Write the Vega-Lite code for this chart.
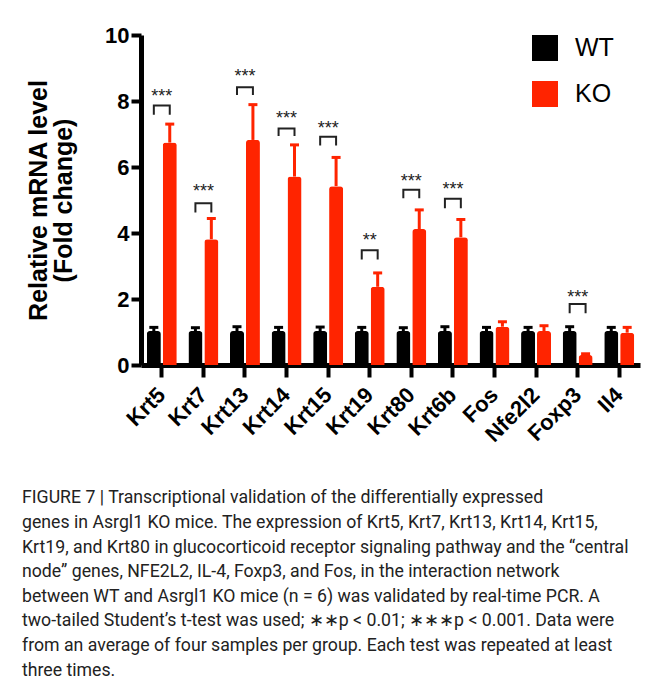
{
  "$schema": "https://vega.github.io/schema/vega-lite/v6.json",
  "width": 499,
  "height": 330,
  "autosize": {"type": "none"},
  "padding": {"left": 141, "top": 35, "right": 11, "bottom": 320},
  "background": "white",
  "config": {
    "view": {"stroke": null},
    "font": "Liberation Sans",
    "legend": {"orient": "none", "legendX": 391, "legendY": 0, "symbolType": "square", "symbolSize": 676, "symbolStrokeWidth": 0, "symbolOpacity": 1, "labelFontSize": 25, "labelFont": "Liberation Sans", "labelColor": "#000", "rowPadding": 20, "labelOffset": 17, "padding": 0, "title": null}
  },
  "title": {
    "text": [
      "FIGURE 7 | Transcriptional validation of the differentially expressed",
      "genes in Asrgl1 KO mice. The expression of Krt5, Krt7, Krt13, Krt14, Krt15,",
      "Krt19, and Krt80 in glucocorticoid receptor signaling pathway and the “central",
      "node” genes, NFE2L2, IL-4, Foxp3, and Fos, in the interaction network",
      "between WT and Asrgl1 KO mice (n = 6) was validated by real-time PCR. A",
      "two-tailed Student’s t-test was used; ∗∗p < 0.01; ∗∗∗p < 0.001. Data were",
      "from an average of four samples per group. Each test was repeated at least",
      "three times."
    ],
    "orient": "bottom",
    "anchor": "start",
    "frame": "bounds",
    "font": "Roboto",
    "fontSize": 17.7,
    "fontWeight": "normal",
    "color": "#222222",
    "lineHeight": 24.6,
    "offset": 44,
    "dx": -4
  },
  "datasets": {
    "bars": [
      {"gene": "Krt5", "group": "WT", "value": 1.03, "upper": 1.14},
      {"gene": "Krt5", "group": "KO", "value": 6.74, "upper": 7.30},
      {"gene": "Krt7", "group": "WT", "value": 1.03, "upper": 1.13},
      {"gene": "Krt7", "group": "KO", "value": 3.81, "upper": 4.44},
      {"gene": "Krt13", "group": "WT", "value": 1.03, "upper": 1.16},
      {"gene": "Krt13", "group": "KO", "value": 6.82, "upper": 7.89},
      {"gene": "Krt14", "group": "WT", "value": 1.03, "upper": 1.14},
      {"gene": "Krt14", "group": "KO", "value": 5.71, "upper": 6.67},
      {"gene": "Krt15", "group": "WT", "value": 1.03, "upper": 1.15},
      {"gene": "Krt15", "group": "KO", "value": 5.42, "upper": 6.29},
      {"gene": "Krt19", "group": "WT", "value": 1.03, "upper": 1.14},
      {"gene": "Krt19", "group": "KO", "value": 2.37, "upper": 2.79},
      {"gene": "Krt80", "group": "WT", "value": 1.03, "upper": 1.13},
      {"gene": "Krt80", "group": "KO", "value": 4.12, "upper": 4.70},
      {"gene": "Krt6b", "group": "WT", "value": 1.03, "upper": 1.16},
      {"gene": "Krt6b", "group": "KO", "value": 3.87, "upper": 4.41},
      {"gene": "Fos", "group": "WT", "value": 1.03, "upper": 1.14},
      {"gene": "Fos", "group": "KO", "value": 1.16, "upper": 1.31},
      {"gene": "Nfe2l2", "group": "WT", "value": 1.03, "upper": 1.14},
      {"gene": "Nfe2l2", "group": "KO", "value": 1.03, "upper": 1.19},
      {"gene": "Foxp3", "group": "WT", "value": 1.03, "upper": 1.16},
      {"gene": "Foxp3", "group": "KO", "value": 0.30, "upper": 0.34},
      {"gene": "Il4", "group": "WT", "value": 1.03, "upper": 1.14},
      {"gene": "Il4", "group": "KO", "value": 0.98, "upper": 1.14}
    ],
    "brackets": [
      {"gene": "Krt5", "group": "WT", "y": 7.58, "ord": 1},
      {"gene": "Krt5", "group": "WT", "y": 7.86, "ord": 2},
      {"gene": "Krt5", "group": "KO", "y": 7.86, "ord": 3},
      {"gene": "Krt5", "group": "KO", "y": 7.58, "ord": 4},
      {"gene": "Krt7", "group": "WT", "y": 4.62, "ord": 1},
      {"gene": "Krt7", "group": "WT", "y": 4.90, "ord": 2},
      {"gene": "Krt7", "group": "KO", "y": 4.90, "ord": 3},
      {"gene": "Krt7", "group": "KO", "y": 4.62, "ord": 4},
      {"gene": "Krt13", "group": "WT", "y": 8.18, "ord": 1},
      {"gene": "Krt13", "group": "WT", "y": 8.42, "ord": 2},
      {"gene": "Krt13", "group": "KO", "y": 8.42, "ord": 3},
      {"gene": "Krt13", "group": "KO", "y": 8.18, "ord": 4},
      {"gene": "Krt14", "group": "WT", "y": 6.94, "ord": 1},
      {"gene": "Krt14", "group": "WT", "y": 7.17, "ord": 2},
      {"gene": "Krt14", "group": "KO", "y": 7.17, "ord": 3},
      {"gene": "Krt14", "group": "KO", "y": 6.94, "ord": 4},
      {"gene": "Krt15", "group": "WT", "y": 6.65, "ord": 1},
      {"gene": "Krt15", "group": "WT", "y": 6.92, "ord": 2},
      {"gene": "Krt15", "group": "KO", "y": 6.92, "ord": 3},
      {"gene": "Krt15", "group": "KO", "y": 6.65, "ord": 4},
      {"gene": "Krt19", "group": "WT", "y": 3.20, "ord": 1},
      {"gene": "Krt19", "group": "WT", "y": 3.48, "ord": 2},
      {"gene": "Krt19", "group": "KO", "y": 3.48, "ord": 3},
      {"gene": "Krt19", "group": "KO", "y": 3.20, "ord": 4},
      {"gene": "Krt80", "group": "WT", "y": 5.05, "ord": 1},
      {"gene": "Krt80", "group": "WT", "y": 5.31, "ord": 2},
      {"gene": "Krt80", "group": "KO", "y": 5.31, "ord": 3},
      {"gene": "Krt80", "group": "KO", "y": 5.05, "ord": 4},
      {"gene": "Krt6b", "group": "WT", "y": 4.75, "ord": 1},
      {"gene": "Krt6b", "group": "WT", "y": 5.04, "ord": 2},
      {"gene": "Krt6b", "group": "KO", "y": 5.04, "ord": 3},
      {"gene": "Krt6b", "group": "KO", "y": 4.75, "ord": 4},
      {"gene": "Foxp3", "group": "WT", "y": 1.57, "ord": 1},
      {"gene": "Foxp3", "group": "WT", "y": 1.85, "ord": 2},
      {"gene": "Foxp3", "group": "KO", "y": 1.85, "ord": 3},
      {"gene": "Foxp3", "group": "KO", "y": 1.57, "ord": 4}
    ],
    "stars": [
      {"gene": "Krt5", "label": "***", "y": 8.24},
      {"gene": "Krt7", "label": "***", "y": 5.35},
      {"gene": "Krt13", "label": "***", "y": 8.85},
      {"gene": "Krt14", "label": "***", "y": 7.58},
      {"gene": "Krt15", "label": "***", "y": 7.27},
      {"gene": "Krt19", "label": "**", "y": 3.89},
      {"gene": "Krt80", "label": "***", "y": 5.66},
      {"gene": "Krt6b", "label": "***", "y": 5.42},
      {"gene": "Foxp3", "label": "***", "y": 2.15}
    ]
  },
  "layer": [
    {
      "data": {"name": "bars"},
      "mark": {"type": "bar", "cornerRadiusTopLeft": 3, "cornerRadiusTopRight": 3},
      "encoding": {
        "x": {
          "field": "gene", "type": "nominal",
          "sort": ["Krt5", "Krt7", "Krt13", "Krt14", "Krt15", "Krt19", "Krt80", "Krt6b", "Fos", "Nfe2l2", "Foxp3", "Il4"],
          "scale": {"paddingInner": 0.28, "paddingOuter": 0.14},
          "title": null,
          "axis": {"domainColor": "#000", "domainWidth": 5, "tickColor": "#000", "tickWidth": 4, "tickSize": 12, "labelAngle": -45, "labelAlign": "right", "labelBaseline": "middle", "labelPadding": 14, "labelFontSize": 22, "labelFontWeight": "bold", "labelColor": "#000", "labelFont": "Liberation Sans"}
        },
        "xOffset": {"field": "group", "type": "nominal", "sort": ["WT", "KO"], "scale": {"paddingInner": 0.12, "paddingOuter": 0}},
        "y": {
          "field": "value", "type": "quantitative",
          "scale": {"domain": [0, 10], "nice": false},
          "title": ["Relative mRNA level", "(Fold change)"],
          "axis": {"values": [0, 2, 4, 6, 8, 10], "grid": false, "domainColor": "#000", "domainWidth": 5, "tickColor": "#000", "tickWidth": 4, "tickSize": 10, "labelPadding": 2, "labelFontSize": 22, "labelFontWeight": "bold", "labelColor": "#000", "labelFont": "Liberation Sans", "titleFontSize": 25, "titleFontWeight": "bold", "titleColor": "#000", "titleFont": "Liberation Sans", "titleLineHeight": 25, "titleX": -103, "titleBaseline": "middle"}
        },
        "color": {
          "field": "group", "type": "nominal",
          "scale": {"domain": ["WT", "KO"], "range": ["#000000", "#ff2400"]},
          "legend": {"orient": "none", "legendX": 391, "legendY": 0, "symbolOpacity": 1}
        }
      }
    },
    {
      "data": {"name": "bars"},
      "mark": {"type": "rule", "strokeWidth": 3},
      "encoding": {
        "x": {"field": "gene", "type": "nominal", "sort": ["Krt5", "Krt7", "Krt13", "Krt14", "Krt15", "Krt19", "Krt80", "Krt6b", "Fos", "Nfe2l2", "Foxp3", "Il4"], "title": null},
        "xOffset": {"field": "group", "type": "nominal", "sort": ["WT", "KO"]},
        "y": {"field": "value", "type": "quantitative", "title": ["Relative mRNA level", "(Fold change)"]},
        "y2": {"field": "upper"},
        "color": {"field": "group", "type": "nominal"}
      }
    },
    {
      "data": {"name": "bars"},
      "mark": {"type": "tick", "thickness": 3, "size": 9, "opacity": 1},
      "encoding": {
        "x": {"field": "gene", "type": "nominal", "sort": ["Krt5", "Krt7", "Krt13", "Krt14", "Krt15", "Krt19", "Krt80", "Krt6b", "Fos", "Nfe2l2", "Foxp3", "Il4"], "title": null},
        "xOffset": {"field": "group", "type": "nominal", "sort": ["WT", "KO"]},
        "y": {"field": "upper", "type": "quantitative", "title": ["Relative mRNA level", "(Fold change)"]},
        "color": {"field": "group", "type": "nominal"}
      }
    },
    {
      "data": {"name": "brackets"},
      "mark": {"type": "line", "strokeWidth": 2, "color": "#222222", "interpolate": "linear"},
      "encoding": {
        "x": {"field": "gene", "type": "nominal", "sort": ["Krt5", "Krt7", "Krt13", "Krt14", "Krt15", "Krt19", "Krt80", "Krt6b", "Fos", "Nfe2l2", "Foxp3", "Il4"], "title": null},
        "xOffset": {"field": "group", "type": "nominal", "sort": ["WT", "KO"]},
        "y": {"field": "y", "type": "quantitative", "title": ["Relative mRNA level", "(Fold change)"]},
        "detail": {"field": "gene"},
        "order": {"field": "ord", "type": "quantitative"}
      }
    },
    {
      "data": {"name": "stars"},
      "mark": {"type": "text", "fontSize": 18, "color": "#222222", "baseline": "middle", "align": "center", "dy": 4},
      "encoding": {
        "x": {"field": "gene", "type": "nominal", "sort": ["Krt5", "Krt7", "Krt13", "Krt14", "Krt15", "Krt19", "Krt80", "Krt6b", "Fos", "Nfe2l2", "Foxp3", "Il4"], "title": null},
        "y": {"field": "y", "type": "quantitative", "title": ["Relative mRNA level", "(Fold change)"]},
        "text": {"field": "label"}
      }
    }
  ]
}
